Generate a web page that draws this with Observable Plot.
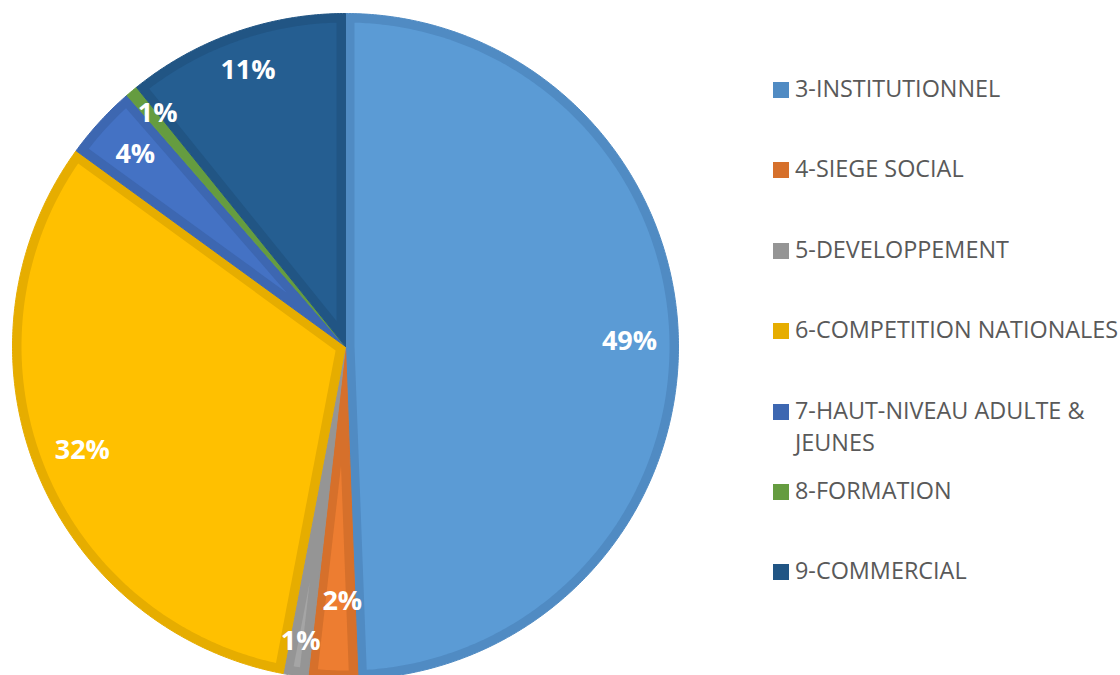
<!DOCTYPE html>
<html>
<head>
<meta charset="utf-8">
<script src="https://cdn.jsdelivr.net/npm/d3@7"></script>
<script src="https://cdn.jsdelivr.net/npm/@observablehq/plot@0.6"></script>
<style>
  html, body { margin: 0; padding: 0; background: #fff; }
  #wrap { position: relative; width: 1120px; height: 675px; overflow: hidden; font-family: "Open Sans", sans-serif; }
  #chart { position: absolute; left: 0; top: 0; }
  .item { position: absolute; left: 773px; width: 347px; display: flex; align-items: flex-start; }
  .sw { width: 16px; height: 16px; margin-top: 10px; margin-right: 6px; flex: none; }
  .lab { font-size: 23.4px; line-height: 32.5px; color: #595959; width: 326px; }
</style>
</head>
<body>
<div id="wrap">
  <div id="chart"></div>
  <div id="legend"></div>
</div>
<script>
// ---- data ----
const categories = ["3-INSTITUTIONNEL", "4-SIEGE SOCIAL", "5-DEVELOPPEMENT", "6-COMPETITION NATIONALES", "7-HAUT-NIVEAU ADULTE & JEUNES", "8-FORMATION", "9-COMMERCIAL"];
const values = [49.4, 2.4, 1.2, 32.0, 3.6, 0.6, 10.8];

// ---- style ----
const fills   = ["#5B9BD5", "#ED7D31", "#A5A5A5", "#FFC000", "#4472C4", "#70AD47", "#255E91"];
const borders = ["#508BC3", "#D6702B", "#959595", "#E6AD00", "#3D67B1", "#659C40", "#215584"];
const labelR  = [0.853, 0.766, 0.895, 0.85, 0.856, 0.9, 0.88];
const labelShift = [0, -0.025, 0, 0, 0, 0.02, 0]; // angular nudge (radians, clockwise)

const W = 700, H = 675, CX = 345, CY = 346, RPX = 333;
const d = 9 / RPX;

const total = d3.sum(values);
const arcs = d3.pie().sort(null).value(v => v)(values);

function arcPts(r, a0, a1) {
  const n = Math.max(2, Math.ceil((a1 - a0) / (Math.PI / 360)));
  const pts = [];
  for (let i = 0; i <= n; i++) {
    const a = a0 + (a1 - a0) * i / n;
    pts.push({x: r * Math.sin(a), y: r * Math.cos(a)});
  }
  return pts;
}

const marks = [];
arcs.forEach((a, i) => {
  const full = [{x: 0, y: 0}, ...arcPts(1, a.startAngle, a.endAngle), {x: 0, y: 0}];
  marks.push(Plot.line(full, {x: "x", y: "y", fill: borders[i], stroke: borders[i], strokeWidth: 1, curve: "linear"}));
});
arcs.forEach((a, i) => {
  const h = (a.endAngle - a.startAngle) / 2;
  const apexDist = d / Math.sin(h);
  const rIn = 1 - d;
  const delta = Math.asin(d / rIn);
  if (apexDist < rIn && a.startAngle + delta < a.endAngle - delta) {
    const mid = (a.startAngle + a.endAngle) / 2;
    const apex = {x: apexDist * Math.sin(mid), y: apexDist * Math.cos(mid)};
    const inset = [apex, ...arcPts(rIn, a.startAngle + delta, a.endAngle - delta), apex];
    marks.push(Plot.line(inset, {x: "x", y: "y", fill: fills[i], stroke: "none", curve: "linear"}));
  }
});

const labels = arcs.map((a, i) => {
  const mid = (a.startAngle + a.endAngle) / 2 + labelShift[i];
  return {x: labelR[i] * Math.sin(mid), y: labelR[i] * Math.cos(mid), text: Math.round(values[i] / total * 100) + "%"};
});
marks.push(Plot.text(labels, {x: "x", y: "y", text: "text", fill: "white", fontSize: 27, fontWeight: "bold", fontFamily: "Open Sans", textAnchor: "middle"}));

const chart = Plot.plot({
  width: W, height: H,
  margin: 0,
  x: {domain: [-CX / RPX, (W - CX) / RPX], axis: null},
  y: {domain: [-(H - CY) / RPX, CY / RPX], axis: null},
  style: {background: "transparent", overflow: "hidden"},
  marks
});
document.getElementById("chart").appendChild(chart);

// ---- legend ----
const legend = document.getElementById("legend");
categories.forEach((c, i) => {
  const it = document.createElement("div");
  it.className = "item";
  it.style.top = (72 + i * 80.4) + "px";
  const sw = document.createElement("div");
  sw.className = "sw";
  sw.style.background = borders[i];
  const lab = document.createElement("div");
  lab.className = "lab";
  lab.textContent = c;
  it.appendChild(sw);
  it.appendChild(lab);
  legend.appendChild(it);
});
</script>
</body>
</html>
